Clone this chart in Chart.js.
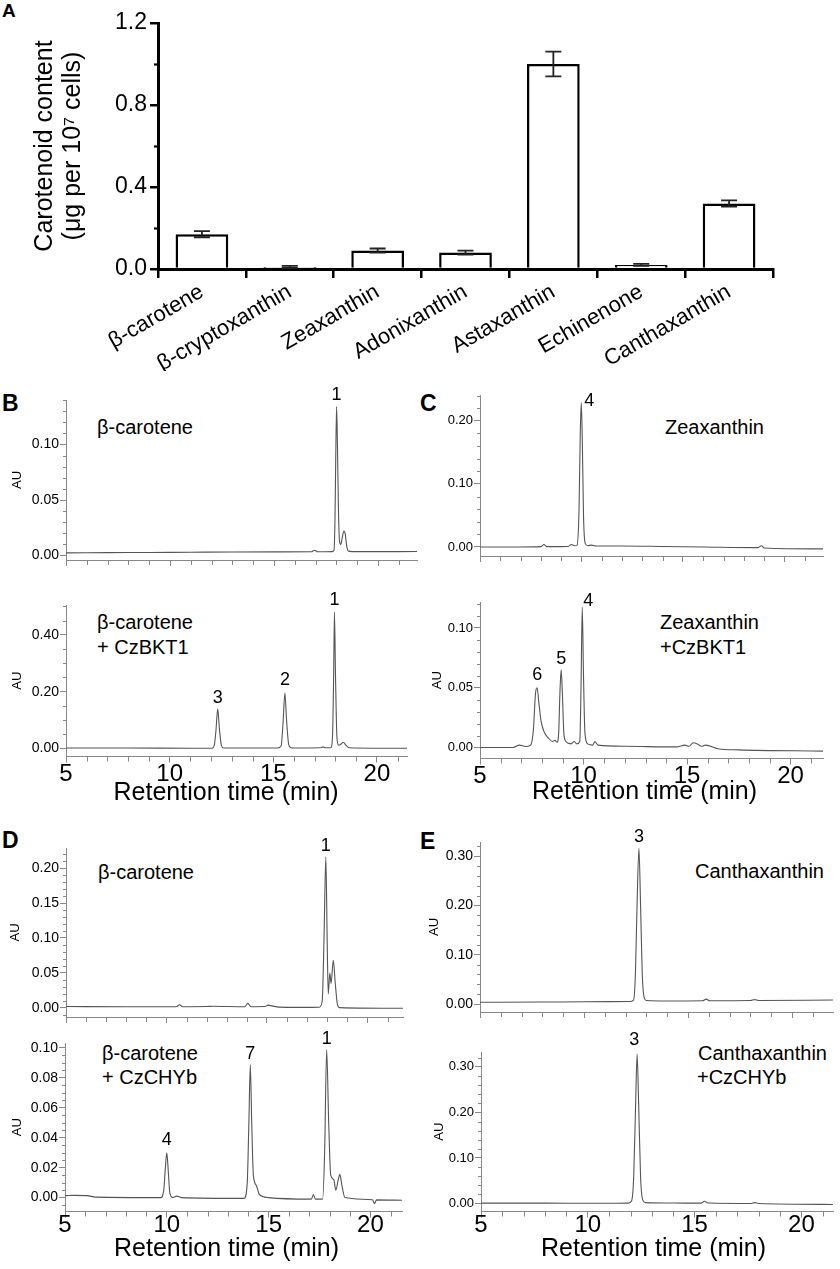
<!DOCTYPE html>
<html><head><meta charset="utf-8">
<script src="https://cdn.jsdelivr.net/npm/chart.js@4.4.1/dist/chart.umd.min.js"></script>
<style>
html,body{margin:0;padding:0;background:#fff;}
body{width:840px;height:1269px;position:relative;overflow:hidden;font-family:"Liberation Sans",Arial,sans-serif;}
canvas{position:absolute;}
.t{position:absolute;white-space:nowrap;color:#000;line-height:1;font-size:20px;}
.p{position:absolute;font-weight:bold;font-size:23px;line-height:1;color:#000;}
</style></head><body>
<div class="p" style="left:2px;top:1px;font-size:19px">A</div>
<div class="p" style="left:2px;top:392px">B</div>
<div class="p" style="left:420px;top:392px">C</div>
<div class="p" style="left:2px;top:829px">D</div>
<div class="p" style="left:420px;top:830px">E</div>
<div class="t" style="left:97px;top:417px">β-carotene</div>
<div class="t" style="left:97px;top:612px">β-carotene</div>
<div class="t" style="left:97px;top:637px">+ CzBKT1</div>
<div class="t" style="left:665px;top:417px">Zeaxanthin</div>
<div class="t" style="left:660px;top:612px">Zeaxanthin</div>
<div class="t" style="left:660px;top:637px">+CzBKT1</div>
<div class="t" style="left:98px;top:862px">β-carotene</div>
<div class="t" style="left:102px;top:1043px">β-carotene</div>
<div class="t" style="left:102px;top:1067px">+ CzCHYb</div>
<div class="t" style="left:695px;top:861px">Canthaxanthin</div>
<div class="t" style="left:698px;top:1043px">Canthaxanthin</div>
<div class="t" style="left:697px;top:1067px">+CzCHYb</div>
<script>
// ---------- Panel A data ----------
const carotenoids = ['β-carotene','β-cryptoxanthin','Zeaxanthin','Adonixanthin','Astaxanthin','Echinenone','Canthaxanthin'];
const contentMean = [0.17, 0.01, 0.09, 0.08, 1.00, 0.02, 0.32];
const contentSD   = [0.015, 0.005, 0.01, 0.01, 0.06, 0.005, 0.015];
const contentTicks = [0, 0.4, 0.8, 1.2];

// ---------- Chromatogram data: [retention time (min), AU] ----------
const timeTicks = [5, 10, 15, 20];
const traceB1 = [[5,0.0024],[7,0.0026],[9,0.0028],[11,0.003],[13,0.0032],[15,0.0033],[16.8,0.0034],[16.95,0.0048],[17.1,0.0034],[17.8,0.0035],[17.88,0.0045],[17.93,0.03],[17.97,0.09],[18.01,0.134],[18.05,0.1],[18.1,0.04],[18.15,0.013],[18.21,0.01],[18.28,0.016],[18.36,0.022],[18.42,0.02],[18.5,0.008],[18.58,0.004],[19,0.0035],[21.9,0.0036]];
const traceB2 = [[5,0.002],[8,0.002],[11,0.0012],[12.05,0.0012],[12.15,0.01],[12.23,0.06],[12.32,0.14],[12.4,0.07],[12.5,0.01],[12.6,0.002],[15.2,0.002],[15.38,0.01],[15.47,0.09],[15.56,0.195],[15.64,0.1],[15.75,0.012],[15.9,0.002],[17.3,0.003],[17.4,0.006],[17.5,0.003],[17.78,0.003],[17.86,0.05],[17.91,0.25],[17.95,0.48],[18.0,0.26],[18.07,0.04],[18.15,0.012],[18.25,0.015],[18.38,0.022],[18.5,0.012],[18.65,0.003],[21.5,0.001]];
const traceC1 = [[5,0],[7,0],[8.0,0.0005],[8.15,0.004],[8.3,0.0005],[9.35,0.0008],[9.5,0.004],[9.65,0.002],[9.78,0.003],[9.88,0.06],[9.94,0.18],[9.99,0.229],[10.04,0.17],[10.1,0.05],[10.18,0.006],[10.3,0.002],[10.5,0.003],[10.7,0.0015],[12,0.0015],[14,0.0008],[16,0],[18.7,-0.001],[18.87,0.002],[19.0,-0.0015],[22,-0.003]];
const traceC2 = [[5,0],[6.6,0],[6.9,0.002],[7.2,0.0008],[7.45,0.002],[7.58,0.015],[7.68,0.045],[7.76,0.05],[7.84,0.038],[7.95,0.022],[8.1,0.013],[8.3,0.008],[8.5,0.005],[8.62,0.006],[8.72,0.0045],[8.8,0.012],[8.86,0.045],[8.92,0.065],[8.98,0.045],[9.05,0.012],[9.15,0.005],[9.4,0.003],[9.55,0.005],[9.68,0.003],[9.82,0.005],[9.88,0.05],[9.94,0.1175],[10.0,0.06],[10.07,0.012],[10.2,0.003],[10.45,0.002],[10.55,0.005],[10.7,0.002],[12,0.001],[14.5,0.0005],[14.9,0.002],[15.1,0.001],[15.3,0.004],[15.5,0.003],[15.7,0.001],[15.9,0.002],[16.5,-0.001],[17.5,-0.002],[21.6,-0.003]];
const traceD1 = [[5,0.002],[8,0.0018],[10.5,0.0018],[10.65,0.0045],[10.8,0.0018],[12,0.002],[12.3,0.0025],[13.9,0.0018],[14.05,0.0065],[14.2,0.0018],[14.9,0.002],[15.05,0.004],[15.25,0.003],[15.6,0.0012],[16.5,0.0008],[17.6,0.001],[17.75,0.01],[17.84,0.1],[17.93,0.216],[18.0,0.09],[18.05,0.02],[18.13,0.05],[18.19,0.035],[18.3,0.068],[18.4,0.035],[18.5,0.006],[18.6,0.0005],[21.8,-0.0005]];
const traceD2 = [[5,0.0013],[5.5,0.0015],[6.1,0.0013],[6.5,0.0003],[9.7,0],[9.85,0.005],[9.93,0.02],[10.0,0.03],[10.07,0.018],[10.15,0.003],[10.3,0],[10.5,0.001],[10.7,0],[13.8,-0.0005],[13.95,0.01],[14.03,0.05],[14.1,0.0887],[14.17,0.05],[14.25,0.015],[14.4,0.008],[14.55,0.002],[15,0],[17.1,-0.001],[17.2,0.002],[17.3,-0.001],[17.65,-0.001],[17.75,0.03],[17.85,0.099],[17.95,0.05],[18.05,0.015],[18.2,0.012],[18.3,0.005],[18.42,0.012],[18.5,0.0155],[18.6,0.008],[18.75,0],[20.1,-0.0015],[20.2,-0.004],[20.3,-0.0015],[21.6,-0.0018]];
const traceE1 = [[5,0.0035],[8,0.004],[10,0.0045],[12.2,0.005],[12.38,0.008],[12.47,0.06],[12.55,0.2],[12.64,0.316],[12.72,0.2],[12.8,0.06],[12.9,0.012],[13.0,0.007],[14,0.006],[15.7,0.0065],[15.87,0.01],[16.05,0.0066],[18.0,0.007],[18.2,0.009],[18.4,0.007],[22,0.008]];
const traceE2 = [[5,0.0008],[8,0.0008],[10,0.0006],[11.9,0.0008],[12.05,0.006],[12.15,0.06],[12.24,0.22],[12.31,0.328],[12.38,0.22],[12.47,0.06],[12.57,0.008],[12.7,0.002],[14,0.001],[15.3,0.0008],[15.47,0.005],[15.62,0.001],[17.65,0],[17.82,0.002],[18.0,0],[21.5,-0.002]];

// peak numbers: [time, AU at apex, label]
const peaksB1 = [[18.01,0.134,'1']];
const peaksB2 = [[12.32,0.14,'3'],[15.56,0.195,'2'],[17.95,0.48,'1']];
const peaksC1 = [[9.99,0.229,'4']];
const peaksC2 = [[7.76,0.05,'6'],[8.92,0.065,'5'],[9.94,0.1175,'4']];
const peaksD1 = [[17.93,0.216,'1']];
const peaksD2 = [[10.0,0.03,'4'],[14.1,0.0887,'7'],[17.85,0.099,'1']];
const peaksE1 = [[12.64,0.316,'3']];
const peaksE2 = [[12.31,0.328,'3']];

const auTicksB1 = [0, 0.05, 0.10];
const auTicksB2 = [0, 0.20, 0.40];
const auTicksC1 = [0, 0.10, 0.20];
const auTicksC2 = [0, 0.05, 0.10];
const auTicksD1 = [0, 0.05, 0.10, 0.15, 0.20];
const auTicksD2 = [0, 0.02, 0.04, 0.06, 0.08, 0.10];
const auTicksE1 = [0, 0.10, 0.20, 0.30];
const auTicksE2 = [0, 0.10, 0.20, 0.30];

const FONT = '"Liberation Sans", Arial, sans-serif';
Chart.defaults.font.family = FONT;
Chart.defaults.color = '#000';

// ---------- plugins ----------
const minorTicks = {
  id: 'minorTicks',
  afterDraw(chart, args, o) {
    const ctx = chart.ctx; ctx.save();
    ctx.strokeStyle = o.color; ctx.lineWidth = o.width;
    ['x','y'].forEach(k => {
      const m = o[k]; if (!m) return;
      const s = chart.scales[k];
      const n0 = Math.ceil(s.min / m.step - 1e-6), n1 = Math.floor(s.max / m.step + 1e-6);
      for (let n = n0; n <= n1; n++) {
        const v = +(n * m.step).toFixed(6);
        if (m.skip && m.skip.some(u => Math.abs(u - v) < 1e-6)) continue;
        const p = Math.round(s.getPixelForValue(v)) + 0.5;
        ctx.beginPath();
        if (k === 'y') { ctx.moveTo(s.right - m.len, p); ctx.lineTo(s.right, p); }
        else { ctx.moveTo(p, s.top); ctx.lineTo(p, s.top + m.len); }
        ctx.stroke();
      }
    });
    ctx.restore();
  }
};
const errorBars = {
  id: 'errorBars',
  afterDatasetsDraw(chart, args, o) {
    const ctx = chart.ctx, y = chart.scales.y, meta = chart.getDatasetMeta(0);
    ctx.save(); ctx.strokeStyle = '#222'; ctx.lineWidth = 1.8;
    o.sd.forEach((sd, i) => {
      const v = chart.data.datasets[0].data[i];
      const x = meta.data[i].x, y1 = y.getPixelForValue(v + sd), y2 = y.getPixelForValue(v - sd);
      ctx.beginPath();
      ctx.moveTo(x, y1); ctx.lineTo(x, y2);
      ctx.moveTo(x - 8, y1); ctx.lineTo(x + 8, y1);
      ctx.moveTo(x - 8, y2); ctx.lineTo(x + 8, y2);
      ctx.stroke();
    });
    ctx.restore();
  }
};
const peakLabels = {
  id: 'peakLabels',
  afterDatasetsDraw(chart, args, o) {
    const ctx = chart.ctx, xs = chart.scales.x, ys = chart.scales.y;
    ctx.save(); ctx.fillStyle = '#000'; ctx.font = '18px ' + FONT;
    ctx.textAlign = 'center'; ctx.textBaseline = 'middle';
    o.peaks.forEach((p, i) => {
      const off = o.off[i] || [0, -12];
      ctx.fillText(p[2], xs.getPixelForValue(p[0]) + off[0], ys.getPixelForValue(p[1]) + off[1]);
    });
    ctx.restore();
  }
};

// ---------- Panel A ----------
(function () {
  const c = document.createElement('canvas');
  c.width = 840; c.height = 374; c.style.left = '0px'; c.style.top = '0px';
  document.body.appendChild(c);
  new Chart(c, {
    type: 'bar',
    data: { labels: carotenoids, datasets: [{ data: contentMean, backgroundColor: '#fff', borderColor: '#000', borderWidth: 2.5, barPercentage: 0.6, categoryPercentage: 1 }] },
    options: {
      responsive: false, animation: false, devicePixelRatio: 1,
      layout: { padding: { top: 23, right: 67, left: 0, bottom: 3 } },
      plugins: { legend: { display: false }, tooltip: { enabled: false }, errorBars: { sd: contentSD },
        minorTicks: { color: '#000', width: 2.2, y: { step: 0.2, len: 4, skip: contentTicks } } },
      scales: {
        x: {
          grid: { drawOnChartArea: false, offset: true, tickLength: 9, color: '#000', lineWidth: 2.5 },
          border: { display: true, color: '#000', width: 3 },
          ticks: { font: { size: 22 }, color: '#000', maxRotation: 30, minRotation: 30, padding: 1, autoSkip: false },
          afterFit(s) { s.height = 102; }
        },
        y: {
          min: 0, max: 1.2,
          afterBuildTicks(s) { s.ticks = contentTicks.map(v => ({ value: v })); },
          ticks: { callback: v => v.toFixed(1), font: { size: 23 }, color: '#000', padding: 3 },
          grid: { drawOnChartArea: false, tickLength: 8, color: '#000', lineWidth: 2.5 },
          border: { color: '#000', width: 3 },
          title: { display: true, text: ['Carotenoid content', '(μg per 10⁷ cells)'], font: { size: 25, lineHeight: 1.12 }, color: '#000', padding: { top: 31, bottom: 0 } },
          afterFit(s) { s.width = 158; }
        }
      }
    },
    plugins: [errorBars, minorTicks]
  });
})();

// ---------- Chromatograms ----------
function chrom(g, trace, peaks, yTicks, offs) {
  const padTop = 30, padRight = 6;
  const c = document.createElement('canvas');
  c.width = g.R + padRight - g.cl;
  c.height = padTop + (g.B - g.T) + g.xH + 2;
  c.style.left = g.cl + 'px'; c.style.top = (g.T - padTop) + 'px';
  document.body.appendChild(c);
  const xTitle = 'Retention time (min)' + ' '.repeat(g.ts || 0);
  new Chart(c, {
    type: 'line',
    data: { datasets: [{ data: trace.map(p => ({ x: p[0], y: p[1] })), borderColor: '#555', borderWidth: 1.1, pointRadius: 0, cubicInterpolationMode: 'monotone', fill: false }] },
    options: {
      responsive: false, animation: false, devicePixelRatio: 1,
      layout: { padding: { top: padTop, right: padRight, left: 0, bottom: 2 } },
      plugins: { legend: { display: false }, tooltip: { enabled: false },
        peakLabels: { peaks: peaks, off: offs },
        minorTicks: { color: '#888', width: 1, x: { step: 1, len: 5, skip: timeTicks }, y: { step: g.ym, len: 3, skip: yTicks } } },
      scales: {
        x: {
          type: 'linear', min: 5, max: g.xmax,
          afterBuildTicks(s) { s.ticks = timeTicks.map(v => ({ value: v })); },
          ticks: { display: g.xl, font: { size: g.xf || 24, lineHeight: 1 }, color: '#000', padding: g.xp || 0, callback: v => String(v) },
          grid: { drawOnChartArea: false, tickLength: 6, color: '#888' },
          border: { color: '#888', width: 1 },
          title: { display: g.xl, text: xTitle, font: { size: 25, lineHeight: 1 }, color: '#000', padding: 0 },
          afterFit(s) { s.height = g.xH; }
        },
        y: {
          min: g.y0, max: g.y1,
          afterBuildTicks(s) { s.ticks = yTicks.map(v => ({ value: v })); },
          ticks: { font: { size: g.yf || 14 }, color: '#000', padding: 1, callback: v => v.toFixed(2) },
          grid: { drawOnChartArea: false, tickLength: 6, color: '#888' },
          border: { color: '#888', width: 1 },
          title: { display: g.au !== undefined, text: 'AU', font: { size: 13, lineHeight: 1 }, color: '#000', padding: { top: (g.au || 0) - g.cl - 6.5, bottom: 0 } },
          afterFit(s) { s.width = g.L - g.cl; }
        }
      }
    },
    plugins: [minorTicks, peakLabels]
  });
}

chrom({cl:0, L:66, R:417, T:400, B:560, xmax:21.875, y0:-0.004, y1:0.14, ym:0.01, xl:false, xH:8, au:17}, traceB1, peaksB1, auTicksB1, [[0,-12]]);
chrom({cl:0, L:66, R:407, T:605, B:757, xmax:21.45, y0:-0.028, y1:0.505, ym:0.05, xl:true, xH:49.5, au:17, ts:3}, traceB2, peaksB2, auTicksB2, [[0,-11],[0,-13],[0,-12]]);
chrom({cl:420, L:480, R:823, T:395, B:556, xmax:21.9, y0:-0.0143, y1:0.241, ym:0.02, xl:false, xH:8, yf:13}, traceC1, peaksC1, auTicksC1, [[8,-2]]);
chrom({cl:420, L:480, R:823, T:602, B:759, xmax:21.57, y0:-0.0092, y1:0.1217, ym:0.01, xl:true, xH:46.5, au:437, yf:13, ts:2}, traceC2, peaksC2, auTicksC2, [[0,-13],[0,-11],[6,-6]]);
chrom({cl:0, L:66, R:403, T:848, B:1017, xmax:21.77, y0:-0.0129, y1:0.2286, ym:0.01, xl:false, xH:8, au:15}, traceD1, peaksD1, auTicksD1, [[0,-11]]);
chrom({cl:0, L:65, R:402, T:1043, B:1212, xmax:21.55, y0:-0.0093, y1:0.1033, ym:0.005, xl:true, xH:50.5, xp:-4, au:17, ts:2}, traceD2, peaksD2, auTicksD2, [[0,-13],[0,-11],[0,-10]]);
chrom({cl:420, L:480, R:833, T:842, B:1012, xmax:21.97, y0:-0.0162, y1:0.3286, ym:0.02, xl:false, xH:8, au:434}, traceE1, peaksE1, auTicksE1, [[0,-11]]);
chrom({cl:420, L:481, R:833, T:1052, B:1212, xmax:21.48, y0:-0.0175, y1:0.3326, ym:0.02, xl:true, xH:50.5, xp:-4, au:439, yf:13, ts:1}, traceE2, peaksE2, auTicksE2, [[-3,-14]]);
</script>
</body></html>
